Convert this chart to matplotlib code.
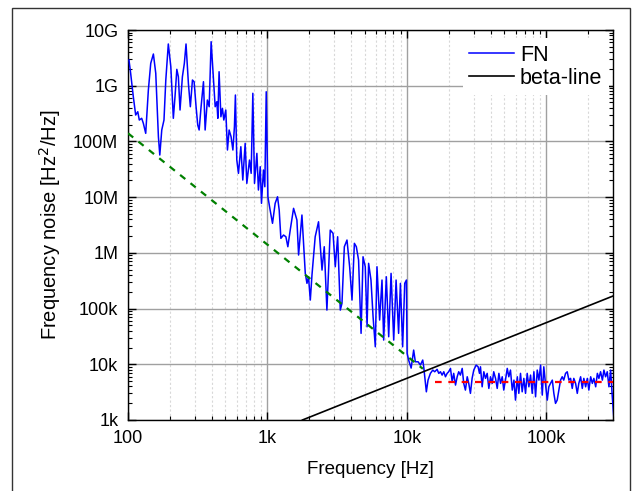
import numpy as np
import matplotlib
matplotlib.use("Agg")
import matplotlib.pyplot as plt
from matplotlib.patches import Rectangle
from matplotlib.ticker import FixedLocator, NullFormatter, LogLocator

plt.rcParams['font.family'] = ['Liberation Sans', 'DejaVu Sans']

# FN spectrum (log10 Hz, log10 Hz^2/Hz)
fn_log_freq = [
    2.007, 2.019, 2.038, 2.055, 2.070, 2.081, 2.098, 2.110, 2.127, 2.146,
    2.163, 2.182, 2.199, 2.218, 2.228, 2.242, 2.258, 2.271, 2.289, 2.307,
    2.325, 2.337, 2.350, 2.361, 2.373, 2.390, 2.404, 2.416, 2.433, 2.447,
    2.462, 2.474, 2.488, 2.500, 2.510, 2.524, 2.541, 2.553, 2.569, 2.582,
    2.596, 2.612, 2.625, 2.637, 2.644, 2.653, 2.666, 2.677, 2.687, 2.701,
    2.713, 2.725, 2.739, 2.752, 2.763, 2.770, 2.780, 2.792, 2.809, 2.823,
    2.840, 2.852, 2.871, 2.883, 2.895, 2.907, 2.924, 2.935, 2.948, 2.957,
    2.971, 2.981, 2.991, 3.003, 3.019, 3.036, 3.055, 3.072, 3.084, 3.096,
    3.115, 3.132, 3.146, 3.163, 3.187, 3.211, 3.223, 3.247, 3.271, 3.283,
    3.294, 3.307, 3.319, 3.342, 3.366, 3.391, 3.407, 3.426, 3.450, 3.470,
    3.486, 3.503, 3.522, 3.534, 3.551, 3.570, 3.589, 3.606, 3.623, 3.637,
    3.653, 3.671, 3.685, 3.701, 3.714, 3.725, 3.742, 3.757, 3.773, 3.785,
    3.804, 3.821, 3.833, 3.852, 3.869, 3.886, 3.905, 3.922, 3.940, 3.953,
    3.969, 3.984, 3.996, 4.001, 4.012, 4.030, 4.048, 4.060, 4.080, 4.096,
    4.113, 4.120, 4.139, 4.151, 4.168, 4.185, 4.199, 4.216, 4.228, 4.240,
    4.252, 4.264, 4.276, 4.288, 4.299, 4.312, 4.324, 4.335, 4.348, 4.360,
    4.371, 4.383, 4.396, 4.407, 4.419, 4.432, 4.443, 4.455, 4.467, 4.479,
    4.496, 4.510, 4.520, 4.527, 4.539, 4.551, 4.563, 4.575, 4.587, 4.599,
    4.611, 4.622, 4.635, 4.647, 4.659, 4.671, 4.683, 4.694, 4.706, 4.719,
    4.730, 4.742, 4.755, 4.767, 4.778, 4.791, 4.802, 4.814, 4.826, 4.838,
    4.850, 4.862, 4.874, 4.886, 4.898, 4.910, 4.922, 4.934, 4.946, 4.958,
    4.970, 4.981, 4.994, 5.006, 5.017, 5.029, 5.042, 5.053, 5.065, 5.077,
    5.089, 5.101, 5.113, 5.124, 5.137, 5.149, 5.161, 5.173, 5.185, 5.196,
    5.209, 5.221, 5.232, 5.245, 5.257, 5.268, 5.281, 5.293, 5.304, 5.317,
    5.329, 5.340, 5.353, 5.365, 5.376, 5.388, 5.401, 5.412, 5.424, 5.436,
    5.448, 5.460, 5.472, 5.484,
]
fn_log_noise = [
    9.461, 9.223, 8.803, 8.474, 8.533, 8.384, 8.415, 8.325, 8.145, 8.923,
    9.402, 9.569, 9.223, 8.084, 7.756, 8.205, 8.384, 9.102, 9.749, 9.341,
    8.415, 8.803, 9.294, 9.162, 8.564, 9.162, 9.402, 9.749, 9.043, 8.623,
    9.102, 9.072, 8.623, 8.294, 8.205, 8.623, 9.072, 8.205, 8.743, 8.623,
    9.790, 9.162, 8.623, 8.713, 8.415, 9.251, 8.443, 8.594, 8.384, 8.564,
    7.846, 8.205, 8.084, 7.846, 8.264, 8.833, 7.666, 7.427, 7.905, 7.307,
    7.966, 7.248, 7.666, 7.427, 8.864, 7.248, 7.786, 7.128, 7.546, 6.889,
    7.487, 7.187, 8.892, 7.007, 6.768, 6.530, 6.889, 7.007, 6.768, 6.260,
    6.320, 6.289, 6.110, 6.409, 6.799, 6.589, 5.961, 6.679, 5.632, 5.453,
    5.571, 5.153, 5.602, 6.289, 6.558, 5.691, 6.110, 4.973, 6.409, 6.350,
    5.751, 6.289, 4.973, 5.093, 6.110, 6.230, 5.751, 5.153, 6.171, 6.110,
    5.871, 4.555, 5.930, 5.751, 4.673, 5.812, 5.512, 4.853, 4.314, 5.751,
    4.794, 5.512, 4.435, 5.571, 4.494, 5.632, 4.435, 5.512, 4.555, 5.453,
    4.314, 5.453, 5.512, 4.196, 4.076, 3.932, 4.255, 4.045, 4.045, 3.986,
    4.076, 3.955, 3.506, 3.716, 3.837, 3.896, 3.866, 3.909, 3.837, 3.866,
    3.806, 3.866, 3.776, 3.837, 3.866, 3.926, 3.686, 3.837, 3.627, 3.776,
    3.866, 3.806, 3.926, 3.657, 3.537, 3.776, 3.657, 3.478, 3.747, 3.896,
    3.986, 3.955, 3.837, 3.955, 3.596, 3.866, 3.747, 3.837, 3.567, 3.776,
    3.657, 3.866, 3.747, 3.567, 3.837, 3.657, 3.776, 3.537, 3.716, 3.926,
    3.776, 3.896, 3.537, 3.716, 3.357, 3.776, 3.478, 3.837, 3.506, 3.747,
    3.478, 3.837, 3.596, 3.806, 3.478, 3.866, 3.417, 3.896, 3.716, 3.986,
    3.447, 3.955, 3.627, 3.357, 3.596, 3.657, 3.716, 3.478, 3.298, 3.357,
    3.537, 3.716, 3.776, 3.716, 3.837, 3.866, 3.716, 3.747, 3.567, 3.747,
    3.657, 3.478, 3.657, 3.776, 3.567, 3.747, 3.596, 3.747, 3.537, 3.776,
    3.657, 3.747, 3.596, 3.837, 3.747, 3.866, 3.716, 3.896, 3.776, 3.866,
    3.596, 3.896, 3.417, 2.998,
]

# beta-line and the two fitted guide lines (end points)
beta_freq = [1780, 300000]
beta_noise = [1000, 168000]
flicker_freq = [100, 13000]
flicker_noise = [1.4e8, 8.3e3]
white_freq = [16000, 300000]
white_noise = [4850, 4850]

x_ticks = [100, 1000, 10000, 100000]
x_labels = ['100', '1k', '10k', '100k']
y_ticks = [1e3, 1e4, 1e5, 1e6, 1e7, 1e8, 1e9, 1e10]
y_labels = ['1k', '10k', '100k', '1M', '10M', '100M', '1G', '10G']

fn_freq = 10 ** np.array(fn_log_freq)
fn_noise = 10 ** np.array(fn_log_noise)

fig = plt.figure(figsize=(6.36, 4.91), dpi=100)
ax = fig.add_axes([128 / 636, 1 - 420 / 491, 485 / 636, 390 / 491])

# outer frame
fig.patches.append(Rectangle((12 / 636, -0.05), 618 / 636, 1.05 - 8 / 491,
                             transform=fig.transFigure, fill=False,
                             edgecolor='#333333', lw=1.0))

ax.plot(fn_freq, fn_noise, color='#0000ff', lw=1.1, label='FN', zorder=3)
ax.plot(beta_freq, beta_noise, color='black', lw=1.2, label='beta-line', zorder=4)
ax.plot(flicker_freq, flicker_noise, color='#008000', lw=1.6,
        ls=(0, (3, 3)), zorder=4)
ax.plot(white_freq, white_noise, color='#ff0000', lw=1.6,
        ls=(0, (3, 3)), zorder=4)

ax.set_xscale('log')
ax.set_yscale('log')
ax.set_xlim(100, 300000)
ax.set_ylim(1e3, 1e10)

ax.xaxis.set_major_locator(FixedLocator(x_ticks))
ax.set_xticklabels(x_labels)
ax.yaxis.set_major_locator(FixedLocator(y_ticks))
ax.set_yticklabels(y_labels)
ax.xaxis.set_minor_locator(LogLocator(base=10, subs=np.arange(2, 10), numticks=20))
ax.yaxis.set_minor_locator(LogLocator(base=10, subs=np.arange(2, 10), numticks=20))
ax.xaxis.set_minor_formatter(NullFormatter())
ax.yaxis.set_minor_formatter(NullFormatter())

ax.tick_params(which='both', direction='in', top=True, right=True, labelsize=13)
ax.tick_params(which='major', length=5.5, width=1)
ax.tick_params(which='minor', length=3, width=0.8)
ax.tick_params(axis='y', which='major', pad=7)
ax.tick_params(axis='x', which='major', pad=7)

ax.grid(which='major', color='#a0a0a0', lw=1.0, ls='-', zorder=0)
ax.grid(which='minor', axis='x', color='#d8d8d8', lw=0.8, ls=(0, (2, 2)), zorder=0)
ax.set_axisbelow(True)
for s in ax.spines.values():
    s.set_linewidth(1.0)

ax.set_xlabel('Frequency [Hz]', fontsize=13.5, labelpad=10)
ax.set_ylabel('Frequency noise [Hz$^2$/Hz]', fontsize=14.5, labelpad=7)

leg = ax.legend(loc='upper right', bbox_to_anchor=(1.0, 1.0 - 4 / 390),
                fontsize=15.5, frameon=True, framealpha=1,
                edgecolor='none', facecolor='white', handlelength=2.1,
                handletextpad=0.25, labelspacing=0.1, borderpad=0.3,
                borderaxespad=0.2, fancybox=False)

fig.savefig('out.png', dpi=100)
